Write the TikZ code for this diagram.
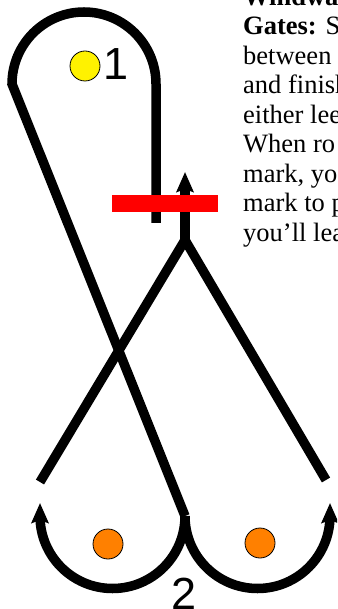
\documentclass[tikz,border=0pt]{standalone}
\usepackage{fontspec}
\setmainfont{Liberation Serif}
\newfontfamily\labfont{Liberation Sans}
\usetikzlibrary{arrows.meta}
\definecolor{markorange}{RGB}{255,128,0}
\definecolor{gatered}{RGB}{255,0,0}
\begin{document}
\begin{tikzpicture}[x=1pt,y=-1pt,
  course/.style={line width=9.5pt, draw=black, line join=miter},
  tipped/.style={-{Stealth[length=20pt,width=17pt,inset=3pt]}},
  buoy/.style={circle, draw=black, line width=0.8pt, minimum size=30pt, inner sep=0pt},
  numlab/.style={font=\labfont\fontsize{45}{45}\selectfont, anchor=base west, inner sep=0pt},
  txt/.style={font=\fontsize{26.5}{29.5}\selectfont, anchor=base west, inner sep=0pt}]
\useasboundingbox (0,0) rectangle (337,609);
\clip (0,0) rectangle (337,609);
% coordinates
\coordinate (loopend) at (156,223);
\coordinate (loopright) at (156,84);
\coordinate (bottom) at (185,516);
\coordinate (leftend) at (40,503);
\coordinate (rightend) at (330,503);
\coordinate (legL) at (40,482);
\coordinate (legR) at (326,480);
\coordinate (fork) at (185,240);
\coordinate (stemtip) at (185,172);
% top loop and long diagonal
\draw[course] (loopend) -- (loopright) arc[start angle=0, end angle=-180, radius=72] -- (bottom);
% bottom rounding arcs
\draw[course, tipped] (bottom) arc[start angle=0, end angle=180, radius=72.5] -- (leftend);
\draw[course, tipped] (bottom) arc[start angle=180, end angle=0, radius=72.5] -- (rightend);
% crossing legs and stem
\draw[course] (legL) -- (fork) -- (legR);
\draw[course, tipped] (fork) -- (stemtip);
% gate
\node[fill=gatered, minimum width=106pt, minimum height=17pt, inner sep=0pt] (gate) at (165,203.5) {};
% marks
\node[buoy, fill=yellow] (m1) at (85,66) {};
\node[buoy, fill=markorange] (m2l) at (108,544) {};
\node[buoy, fill=markorange] (m2r) at (260,543) {};
\node[numlab] (l1) at (103,80) {1};
\node[numlab] (l2) at (171,609) {2};
% text
\node[txt] (t0) at (243,5.5) {\textbf{Windwar}};
\node[txt] (t1) at (243,35) {\textbf{Gates:} St};
\node[txt] (t2) at (243,64.5) {between};
\node[txt] (t3) at (243,94) {and finish};
\node[txt] (t4) at (243,123.5) {either lee};
\node[txt] (t5) at (243,153) {When ro};
\node[txt] (t6) at (243,182.5) {mark, yo};
\node[txt] (t7) at (243,212) {mark to p};
\node[txt] (t8) at (243,241.5) {you’ll lea};
\end{tikzpicture}
\end{document}
